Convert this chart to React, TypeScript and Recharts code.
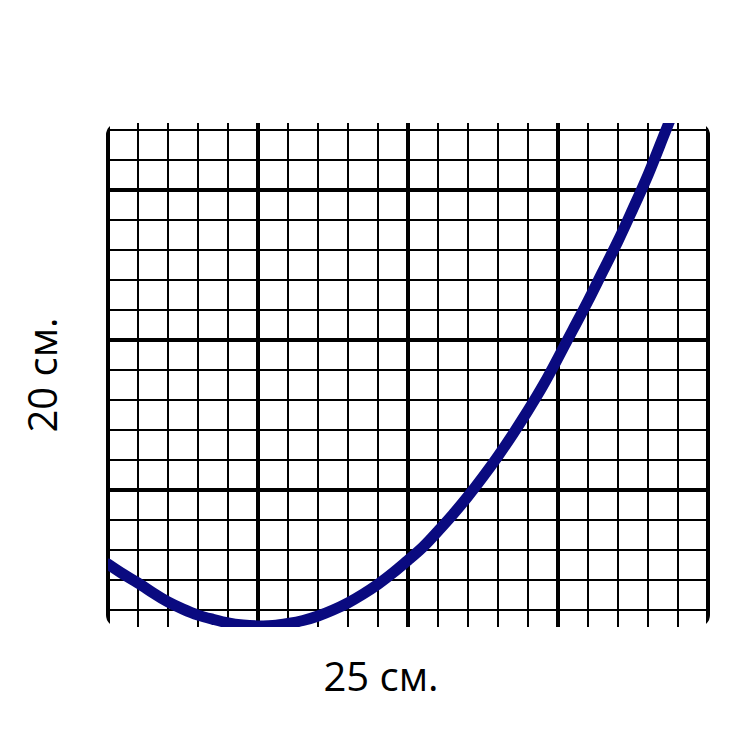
import React from 'react';
import { LineChart, Line, XAxis, YAxis, ReferenceLine } from 'recharts';

// Curve samples (grid-cell units: x = cells from left edge, y = cells above the lowest grid line)
const curveX = [0, 0.5, 1, 1.5, 2, 2.5, 3, 3.5, 4, 4.5, 5, 5.5, 6, 6.5, 7, 7.5, 8, 8.5, 9, 9.5, 10, 10.5, 11, 11.5, 12, 12.5, 13, 13.5, 14, 14.5, 15, 15.5, 16, 16.5, 17, 17.5, 18, 18.5, 19];
const curveY = [1.53, 1.2, 0.9, 0.57, 0.27, 0.03, -0.17, -0.31, -0.43, -0.5, -0.53, -0.52, -0.45, -0.35, -0.2, 0.0, 0.24, 0.53, 0.86, 1.24, 1.66, 2.1, 2.63, 3.19, 3.79, 4.44, 5.13, 5.87, 6.65, 7.48, 8.4, 9.35, 10.3, 11.3, 12.3, 13.38, 14.5, 15.75, 17.0];

const thinX = [1, 2, 3, 4, 6, 7, 8, 9, 11, 12, 13, 14, 16, 17, 18, 19];
const majorX = [0, 5, 10, 15, 20];
const thinY = [0, 1, 2, 3, 5, 6, 7, 8, 10, 11, 12, 13, 15, 16];
const majorY = [4, 9, 14];

const xLabel = '25 см.';
const yLabel = '20 см.';

const Y_MIN = -17 / 30;
const Y_MAX = 16.8 - 17 / 30;

const data = curveX.map((x, i) => ({ x, y: curveY[i] }));

const cornerPath = (cx: number, cy: number, sx: number, sy: number, rad: number, pad: number) => {
  const sweep = sx * sy > 0 ? 0 : 1;
  return (
    `M${cx + sx * pad},${cy + sy * pad} L${cx - sx * rad},${cy + sy * pad} L${cx - sx * rad},${cy} ` +
    `A${rad},${rad} 0 0 ${sweep} ${cx},${cy - sy * rad} L${cx + sx * pad},${cy - sy * rad} Z`
  );
};

// White masks that round the corners of the grid sheet (drawn at the ends of an edge reference line)
const makeCornerShape = (sy: number) => (props: any) => {
  const { x1, x2, y1 } = props;
  if (x1 == null || x2 == null || y1 == null) return <g />;
  const l = Math.min(x1, x2) - 2;
  const r = Math.max(x1, x2) + 2;
  const rad = 12;
  const pad = 14;
  const d = cornerPath(l, y1, -1, sy, rad, pad) + ' ' + cornerPath(r, y1, 1, sy, rad, pad);
  return <path d={d} fill="#fff" stroke="none" />;
};

const TopCorners = makeCornerShape(-1);
const BottomCorners = makeCornerShape(1);

export default function App() {
  return (
    <div style={{ position: 'relative', width: 742, height: 742, fontFamily: "'Open Sans', sans-serif" }}>
      <LineChart width={742} height={742} data={data} margin={{ top: 115, right: 42, bottom: 123, left: 100 }}>
        <XAxis type="number" dataKey="x" domain={[0, 20]} hide allowDataOverflow />
        <YAxis type="number" domain={[Y_MIN, Y_MAX]} hide allowDataOverflow />
        {thinX.map((v) => (
          <ReferenceLine key={'tx' + v} x={v} stroke="#000" strokeWidth={2} />
        ))}
        {thinY.map((v) => (
          <ReferenceLine key={'ty' + v} y={v} stroke="#000" strokeWidth={2} />
        ))}
        {majorX.map((v) => (
          <ReferenceLine key={'mx' + v} x={v} stroke="#000" strokeWidth={4} />
        ))}
        {majorY.map((v) => (
          <ReferenceLine key={'my' + v} y={v} stroke="#000" strokeWidth={4} />
        ))}
        <ReferenceLine y={Y_MAX} stroke="none" shape={TopCorners} />
        <ReferenceLine y={Y_MIN} stroke="none" shape={BottomCorners} />
        <Line
          dataKey="y"
          type="natural"
          stroke="#0a0a80"
          strokeWidth={11}
          strokeLinecap="round"
          dot={false}
          activeDot={false}
          isAnimationActive={false}
        />
      </LineChart>
      <div style={{ position: 'absolute', left: 273, top: 643, width: 200, textAlign: 'center', fontSize: 40, lineHeight: '50px', color: '#000', whiteSpace: 'nowrap' }}>
        {xLabel}
      </div>
      <div
        style={{
          position: 'absolute',
          left: -66,
          top: 342,
          width: 200,
          textAlign: 'center',
          fontSize: 40,
          lineHeight: '50px',
          color: '#000',
          whiteSpace: 'nowrap',
          transform: 'rotate(-90deg)',
        }}
      >
        {yLabel}
      </div>
    </div>
  );
}
